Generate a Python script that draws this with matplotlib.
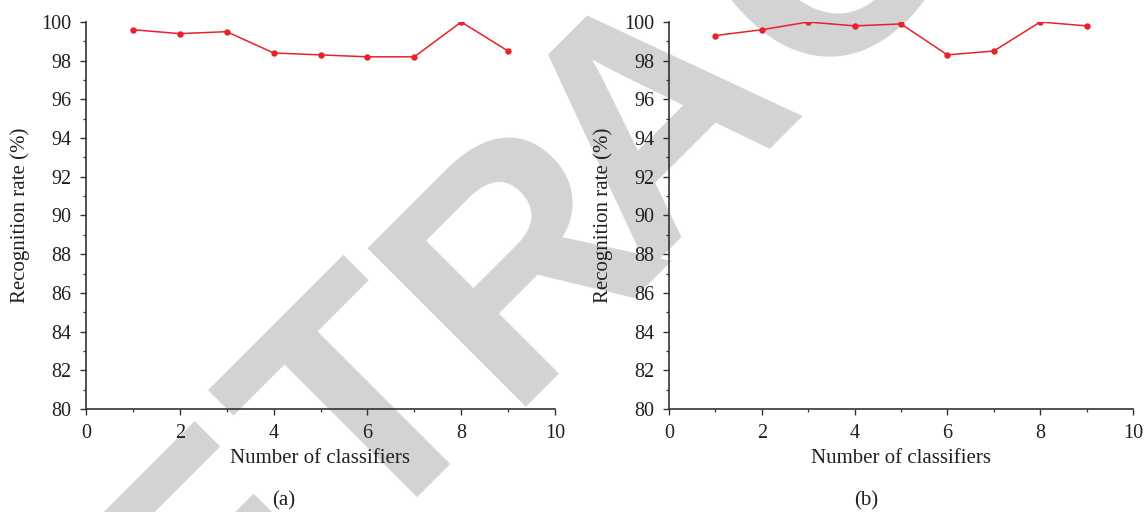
import numpy as np
import matplotlib
matplotlib.use("Agg")
import matplotlib.pyplot as plt
from matplotlib.ticker import MultipleLocator

# recognition rate vs number of classifiers, two experiments
n_classifiers = [1, 2, 3, 4, 5, 6, 7, 8, 9]
rate_a = [99.6, 99.4, 99.5, 98.4, 98.3, 98.2, 98.2, 100.0, 98.5]
rate_b = [99.3, 99.6, 100.0, 99.8, 99.9, 98.3, 98.5, 100.0, 99.8]
panel_tags = ["(a)", "(b)"]

WATERMARK = "RETRACTED"
# letter centres along the watermark baseline (pixels)
letter_s = [-455, -243, -32, 186, 380, 624, 830, 1030, 1240]

plt.rcParams["font.family"] = ["Liberation Serif", "DejaVu Serif"]
plt.rcParams["font.size"] = 15

W, H = 1147, 512
fig = plt.figure(figsize=(W / 100, H / 100), dpi=100)

# watermark, drawn letter by letter along a 45 degree baseline
base_t = 644
c = np.sqrt(0.5)
for ch, s in zip(WATERMARK, letter_s):
    px = c * (s + base_t)
    py = c * (base_t - s)
    fig.text(px / W, 1 - py / H, ch, rotation=45, rotation_mode="anchor",
             ha="center", va="baseline", fontsize=234, fontweight="bold",
             family="Liberation Sans", color="#d3d3d3", zorder=-5)

axes_px = [(86, 555), (669, 1133)]
tag_x = [284, 866]
ink = "#231f20"

for (x0, x1), rate, tag, tx in zip(axes_px, [rate_a, rate_b], panel_tags, tag_x):
    ax = fig.add_axes([x0 / W, 1 - 409 / H, (x1 - x0) / W, (409 - 22) / H])
    ax.set_facecolor("none")
    ax.plot(n_classifiers, rate, "-o", color="#e8212b", linewidth=1.1,
            markersize=3.6, zorder=3)
    ax.set_xlim(0, 10)
    ax.set_ylim(80, 100)
    ax.xaxis.set_major_locator(MultipleLocator(2))
    ax.xaxis.set_minor_locator(MultipleLocator(1))
    ax.yaxis.set_major_locator(MultipleLocator(2))
    ax.yaxis.set_minor_locator(MultipleLocator(1))
    for side in ["top", "right"]:
        ax.spines[side].set_visible(False)
    for side in ["left", "bottom"]:
        ax.spines[side].set_linewidth(1.2)
        ax.spines[side].set_color("#333333")
    ax.tick_params(which="major", direction="out", length=4.3, width=1.0,
                   color="#333333", labelcolor=ink, labelsize=14.5)
    ax.tick_params(which="minor", direction="out", length=2.2, width=0.9,
                   color="#333333")
    ax.tick_params(axis="x", which="major", pad=6.5)
    ax.tick_params(axis="y", which="major", pad=6)
    ax.set_xlabel("Number of classifiers", color=ink, labelpad=4)
    ax.set_ylabel("Recognition rate (%)", color=ink, labelpad=8)
    fig.text(tx / W, 1 - 501 / H, tag, ha="center", va="center", color=ink)

fig.savefig("out.png", dpi=100)
